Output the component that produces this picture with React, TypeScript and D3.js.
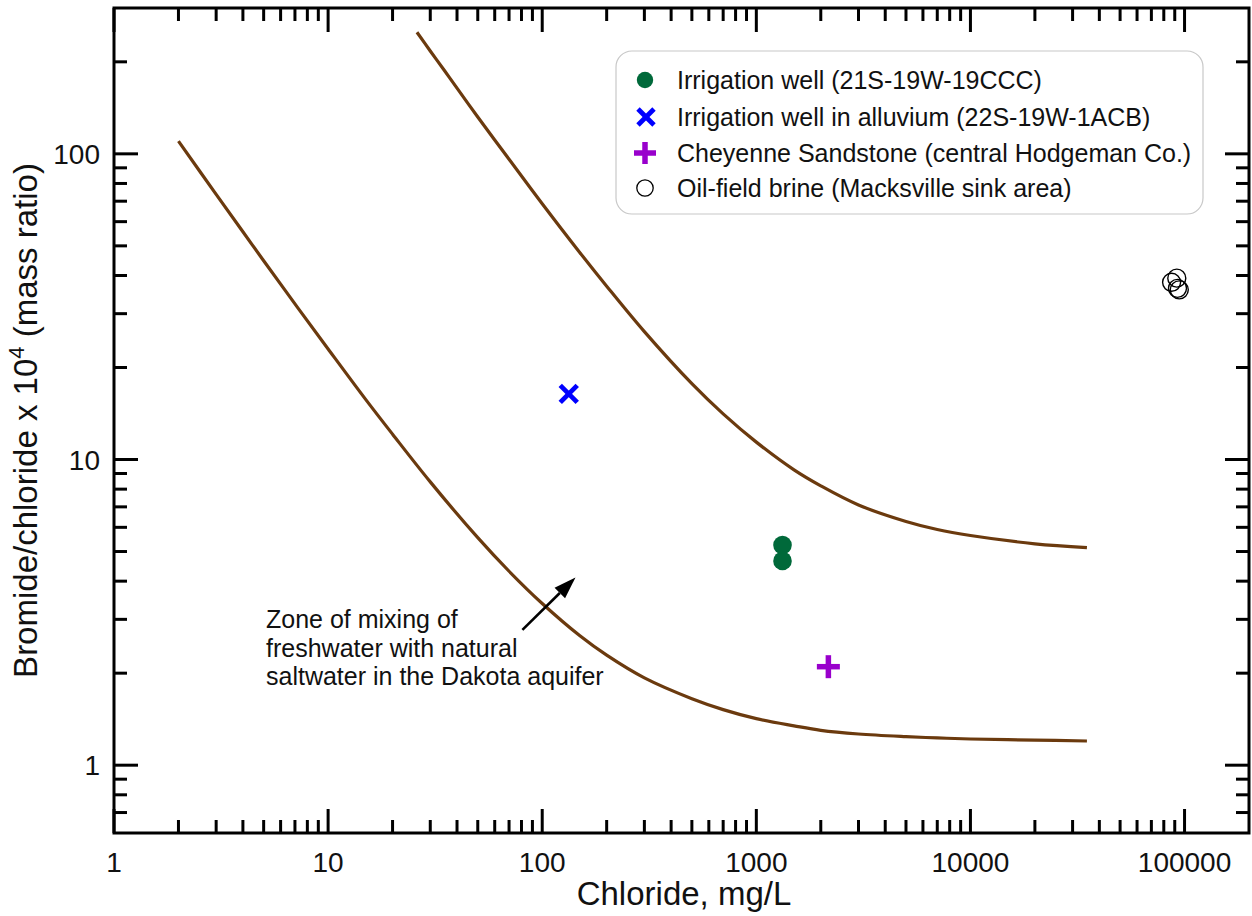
import React from 'react';
import * as d3 from 'd3';

// ---- Data ----
const irrigationChloride = [1325, 1325];
const irrigationRatio = [5.25, 4.66];

const alluviumChloride = [133];
const alluviumRatio = [16.4];

const cheyenneChloride = [2170];
const cheyenneRatio = [2.1];

const brineChloride = [87000, 92000, 92700, 94500];
const brineRatio = [38.0, 39.2, 36.3, 35.9];

const lowerCurveChloride = [2, 3, 4, 5, 7, 10, 15, 20, 30, 50, 70, 100, 150, 200, 300, 500, 700, 1000, 1500, 2000, 3000, 5000, 7000, 10000, 20000, 35000];
const lowerCurveRatio = [110, 73.7, 55.6, 44.7, 32.3, 23.0, 15.7, 12.1, 8.45, 5.55, 4.31, 3.38, 2.65, 2.29, 1.93, 1.65, 1.52, 1.42, 1.345, 1.30, 1.265, 1.24, 1.228, 1.218, 1.208, 1.2];

const upperCurveChloride = [26, 30, 35, 40, 50, 60, 70, 100, 150, 200, 300, 500, 700, 1000, 1500, 2000, 3000, 5000, 7000, 10000, 20000, 35000];
const upperCurveRatio = [250, 217, 187, 164, 132, 111, 96, 68.7, 47.5, 36.9, 26.2, 17.7, 14.1, 11.4, 9.25, 8.2, 7.1, 6.27, 5.9, 5.64, 5.3, 5.15];

const xTickValues = [1, 10, 100, 1000, 10000, 100000];
const xTickLabels = ['1', '10', '100', '1000', '10000', '100000'];
const yTickValues = [1, 10, 100];
const yTickLabels = ['1', '10', '100'];

const legendLabels = [
  'Irrigation well (21S-19W-19CCC)',
  'Irrigation well in alluvium (22S-19W-1ACB)',
  'Cheyenne Sandstone (central Hodgeman Co.)',
  'Oil-field brine (Macksville sink area)',
];

const annotationLines = [
  'Zone of mixing of',
  'freshwater with natural',
  'saltwater in the Dakota aquifer',
];

const arrowFrom = [80.8, 2.77];
const arrowTo = [143, 4.11];

// ---- Layout ----
const W = 1252;
const H = 916;
const L = 114, R = 1249, T = 8, B = 833;
const FONT = '"Liberation Sans", Arial, Helvetica, sans-serif';
const CURVE = '#6b3a0e';
const GREEN = '#00693a';
const BLUE = '#0000ff';
const PURPLE = '#9900cc';

function XMark({ cx, cy, s, w, color }: any) {
  return (
    <g stroke={color} strokeWidth={w} strokeLinecap="butt">
      <line x1={cx - s} y1={cy - s} x2={cx + s} y2={cy + s} />
      <line x1={cx - s} y1={cy + s} x2={cx + s} y2={cy - s} />
    </g>
  );
}

function PlusMark({ cx, cy, s, w, color }: any) {
  return (
    <g stroke={color} strokeWidth={w} strokeLinecap="butt">
      <line x1={cx - s} y1={cy} x2={cx + s} y2={cy} />
      <line x1={cx} y1={cy - s} x2={cx} y2={cy + s} />
    </g>
  );
}

export default function App() {
  const x = d3.scaleLog().domain([1, 200000]).range([L, R]);
  const y = d3.scaleLog().domain([0.6, 300]).range([B, T]);

  const isMajor = (v: number) => Math.abs(Math.log10(v) - Math.round(Math.log10(v))) < 1e-9;
  const xMinor = x.ticks().filter((v) => !isMajor(v) && x(v) > L + 1 && x(v) < R - 1);
  const yMinor = y.ticks().filter((v) => !isMajor(v) && y(v) < B - 1 && y(v) > T + 1);

  const line = d3
    .line<[number, number]>()
    .x((d) => x(d[0]))
    .y((d) => y(d[1]))
    .curve(d3.curveCatmullRom.alpha(0.5));

  const lowerPts = lowerCurveChloride.map((c, i) => [c, lowerCurveRatio[i]] as [number, number]);
  const upperPts = upperCurveChloride.map((c, i) => [c, upperCurveRatio[i]] as [number, number]);

  const majorLen = 24;
  const minorLen = 13;

  // arrow geometry
  const ax1 = x(arrowFrom[0]), ay1 = y(arrowFrom[1]);
  const ax2 = x(arrowTo[0]), ay2 = y(arrowTo[1]);
  const ang = Math.atan2(ay2 - ay1, ax2 - ax1);
  const headLen = 22, headW = 7.5;
  const bx = ax2 - headLen * Math.cos(ang), by = ay2 - headLen * Math.sin(ang);
  const px = -Math.sin(ang), py = Math.cos(ang);
  const head = `M${ax2},${ay2} L${bx + headW * px},${by + headW * py} L${bx - headW * px},${by - headW * py} Z`;

  const legX = 616, legY = 51, legW = 587, legH = 163;
  const legSymX = 645;
  const legRows = [80, 117, 153, 188];

  return (
    <svg
      width={W}
      height={H}
      style={{ position: 'absolute', left: 0, top: 0, background: '#fff' }}
      fontFamily={FONT}
    >
      <rect x={0} y={0} width={W} height={H} fill="#fff" />

      {/* curves */}
      <path d={line(lowerPts) || ''} fill="none" stroke={CURVE} strokeWidth={3.2} />
      <path d={line(upperPts) || ''} fill="none" stroke={CURVE} strokeWidth={3.2} />

      {/* ticks */}
      <g stroke="#000" strokeWidth={3}>
        {xTickValues.map((v) => (
          <g key={'xM' + v}>
            <line x1={x(v)} x2={x(v)} y1={B} y2={B - majorLen} />
            <line x1={x(v)} x2={x(v)} y1={T} y2={T + majorLen} />
          </g>
        ))}
        {xMinor.map((v) => (
          <g key={'xm' + v}>
            <line x1={x(v)} x2={x(v)} y1={B} y2={B - minorLen} />
            <line x1={x(v)} x2={x(v)} y1={T} y2={T + minorLen} />
          </g>
        ))}
        {yTickValues.map((v) => (
          <g key={'yM' + v}>
            <line x1={L} x2={L + majorLen} y1={y(v)} y2={y(v)} />
            <line x1={R} x2={R - majorLen} y1={y(v)} y2={y(v)} />
          </g>
        ))}
        {yMinor.map((v) => (
          <g key={'ym' + v}>
            <line x1={L} x2={L + minorLen} y1={y(v)} y2={y(v)} />
            <line x1={R} x2={R - minorLen} y1={y(v)} y2={y(v)} />
          </g>
        ))}
      </g>

      {/* frame */}
      <rect x={L} y={T} width={R - L} height={B - T} fill="none" stroke="#000" strokeWidth={3} />

      {/* tick labels */}
      <g fontSize={28} fill="#111">
        {xTickValues.map((v, i) => (
          <text key={'xl' + v} x={x(v)} y={872} textAnchor="middle">
            {xTickLabels[i]}
          </text>
        ))}
        {yTickValues.map((v, i) => (
          <text key={'yl' + v} x={100} y={y(v) + 10} textAnchor="end">
            {yTickLabels[i]}
          </text>
        ))}
      </g>

      {/* axis titles */}
      <text x={684} y={905} fontSize={33} textAnchor="middle" fill="#111">
        Chloride, mg/L
      </text>
      <text transform={`translate(37,${(T + B) / 2}) rotate(-90)`} fontSize={33} textAnchor="middle" fill="#111">
        Bromide/chloride x 10
        <tspan fontSize={22} dy={-13}>4</tspan>
        <tspan dy={13}> (mass ratio)</tspan>
      </text>

      {/* data points */}
      {irrigationChloride.map((c, i) => (
        <circle key={'ir' + i} cx={x(c)} cy={y(irrigationRatio[i])} r={9.3} fill={GREEN} />
      ))}
      {alluviumChloride.map((c, i) => (
        <XMark key={'al' + i} cx={x(c)} cy={y(alluviumRatio[i])} s={8.5} w={4.8} color={BLUE} />
      ))}
      {cheyenneChloride.map((c, i) => (
        <PlusMark key={'ch' + i} cx={x(c)} cy={y(cheyenneRatio[i])} s={11.5} w={5.5} color={PURPLE} />
      ))}
      {brineChloride.map((c, i) => (
        <circle key={'br' + i} cx={x(c)} cy={y(brineRatio[i])} r={9} fill="none" stroke="#000" strokeWidth={1.4} />
      ))}

      {/* annotation */}
      <g fontSize={25} fill="#111">
        {annotationLines.map((t, i) => (
          <text key={'an' + i} x={266} y={628 + i * 28.5}>
            {t}
          </text>
        ))}
      </g>
      <line x1={ax1} y1={ay1} x2={bx} y2={by} stroke="#000" strokeWidth={2.6} />
      <path d={head} fill="#000" />

      {/* legend */}
      <rect x={legX} y={legY} width={legW} height={legH} rx={16} ry={16} fill="#fff" stroke="#c8c8c8" strokeWidth={1.2} />
      <circle cx={legSymX} cy={legRows[0]} r={8.2} fill={GREEN} />
      <XMark cx={legSymX + 1} cy={legRows[1]} s={8} w={4.8} color={BLUE} />
      <PlusMark cx={legSymX} cy={legRows[2]} s={11} w={5.5} color={PURPLE} />
      <circle cx={legSymX} cy={legRows[3]} r={8.2} fill="none" stroke="#000" strokeWidth={1.3} />
      <g fontSize={25} fill="#111">
        {legendLabels.map((t, i) => (
          <text key={'lg' + i} x={677} y={legRows[i] + 9}>
            {t}
          </text>
        ))}
      </g>
    </svg>
  );
}
